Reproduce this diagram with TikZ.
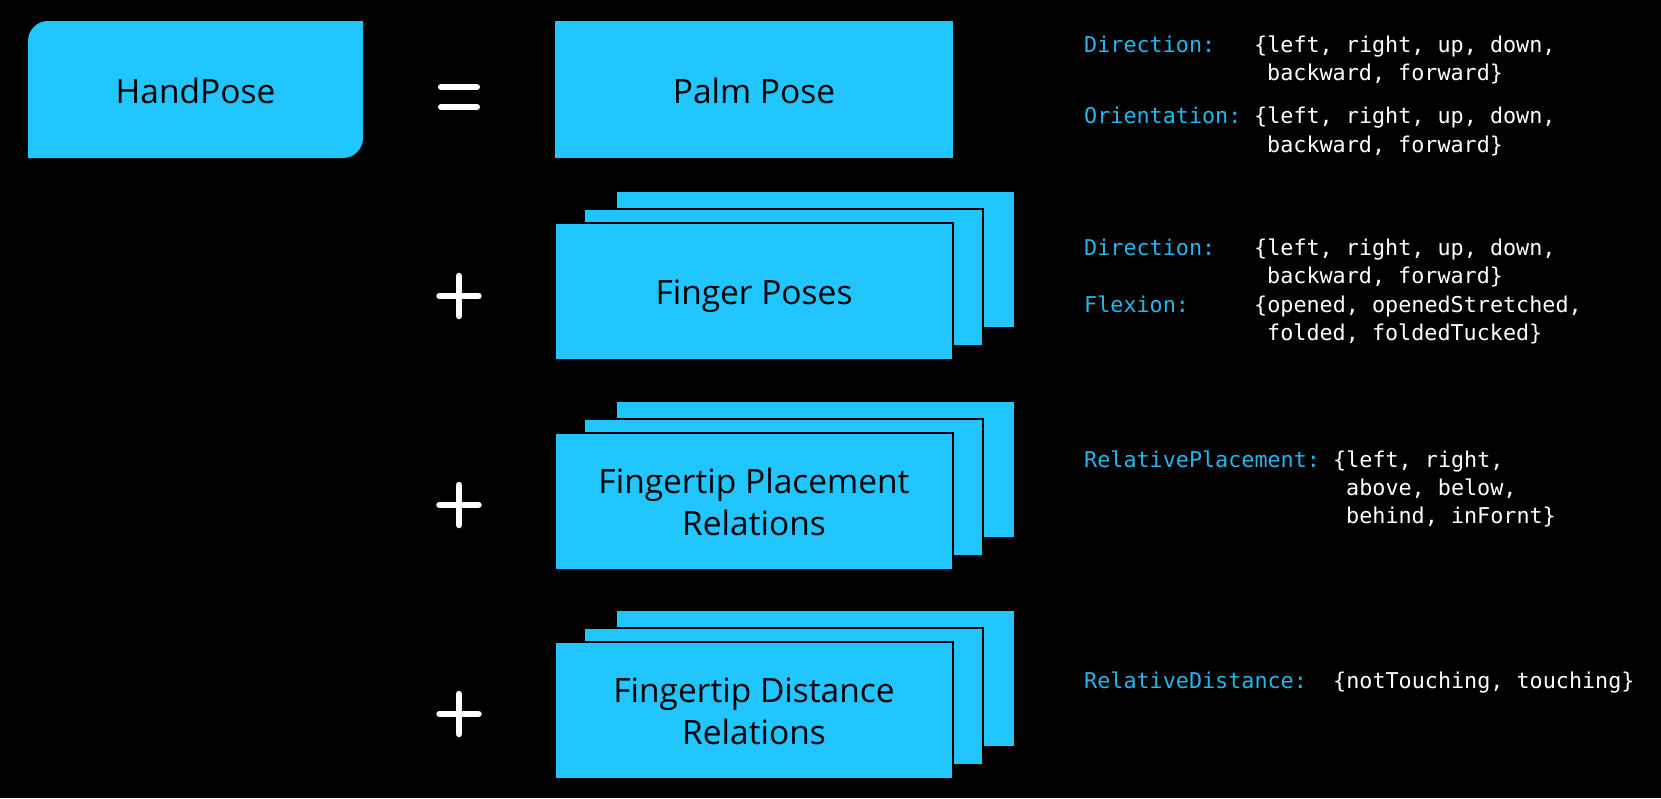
\documentclass[tikz,border=0pt]{standalone}
\usepackage{fontspec}
\setmainfont{Open Sans}
\newfontfamily\codefont{DejaVu Sans Mono}
\definecolor{boxcyan}{RGB}{33,197,255}
\definecolor{keycyan}{RGB}{34,182,236}
\tikzset{
  pix/.style={x=1pt,y=-1pt},
  cardbox/.style={fill=boxcyan,draw=black,line width=2pt},
  boxlabel/.style={text=black,font=\fontsize{33.5}{42}\selectfont,align=center,inner sep=0pt},
  opsign/.style={draw=white,line width=6.5pt,line cap=round},
  keytext/.style={text=keycyan,font=\codefont\fontsize{21.76}{28}\selectfont,anchor=base west,inner sep=0pt},
  valtext/.style={text=white,font=\codefont\fontsize{21.76}{28}\selectfont,anchor=base west,inner sep=0pt}
}
\begin{document}
\begin{tikzpicture}[pix]
\fill[black] (0,0) rectangle (1661,798);
\useasboundingbox (0,0) rectangle (1661,798);

% HandPose box
\fill[boxcyan] (28,158) -- (28,41) .. controls (28,30) and (37,21) .. (48,21) -- (363,21) -- (363,138) .. controls (363,149) and (354,158) .. (343,158) -- cycle;
\node[boxlabel,anchor=base] (handpose) at (195.5,103) {HandPose};

% equal sign
\coordinate (eqa) at (441,87); \coordinate (eqb) at (477,87);
\coordinate (eqc) at (441,107); \coordinate (eqd) at (477,107);
\draw[opsign,line width=6pt] (eqa) -- (eqb);
\draw[opsign,line width=6pt] (eqc) -- (eqd);

% Palm pose
\fill[boxcyan] (555,21) rectangle (953,158);
\node[boxlabel,anchor=base] (palm) at (754,103) {Palm Pose};

% stacks
\foreach \T in {223,433,642}{
  \draw[cardbox] (616,\T-32) rectangle (1015,\T+105);
  \draw[cardbox] (584,\T-14) rectangle (983,\T+123);
  \draw[cardbox] (555,\T) rectangle (953,\T+137);
}
\node[boxlabel,anchor=base] (finger) at (754,304) {Finger Poses};
\node[boxlabel] (place) at (754,502) {Fingertip Placement\\Relations};
\node[boxlabel] (dist) at (754,711) {Fingertip Distance\\Relations};

% plus signs
\foreach \nm/\y in {pfinger/296,pplace/505,pdist/714}{
  \coordinate (\nm) at (459,\y);
  \draw[opsign] ([xshift=-19.5pt]\nm) -- ([xshift=19.5pt]\nm);
  \draw[opsign] ([yshift=-20pt]\nm) -- ([yshift=20pt]\nm);
}

% right-side texts
\node[keytext] (k1) at (1084,52) {Direction:};
\node[valtext] (v1a) at (1254,52) {\{left, right, up, down,};
\node[valtext] (v1b) at (1267,80) {backward, forward\}};
\node[keytext] (k2) at (1084,123) {Orientation:};
\node[valtext] (v2a) at (1254,123) {\{left, right, up, down,};
\node[valtext] (v2b) at (1267,152) {backward, forward\}};

\node[keytext] (k3) at (1084,255) {Direction:};
\node[valtext] (v3a) at (1254,255) {\{left, right, up, down,};
\node[valtext] (v3b) at (1267,283) {backward, forward\}};
\node[keytext] (k4) at (1084,312) {Flexion:};
\node[valtext] (v4a) at (1254,312) {\{opened, openedStretched,};
\node[valtext] (v4b) at (1267,340) {folded, foldedTucked\}};

\node[keytext] (k5) at (1084,467) {RelativePlacement:};
\node[valtext] (v5a) at (1333,467) {\{left, right,};
\node[valtext] (v5b) at (1346,495) {above, below,};
\node[valtext] (v5c) at (1346,523) {behind, inFornt\}};

\node[keytext] (k6) at (1084,688) {RelativeDistance:};
\node[valtext] (v6a) at (1333,688) {\{notTouching, touching\}};
\end{tikzpicture}
\end{document}
